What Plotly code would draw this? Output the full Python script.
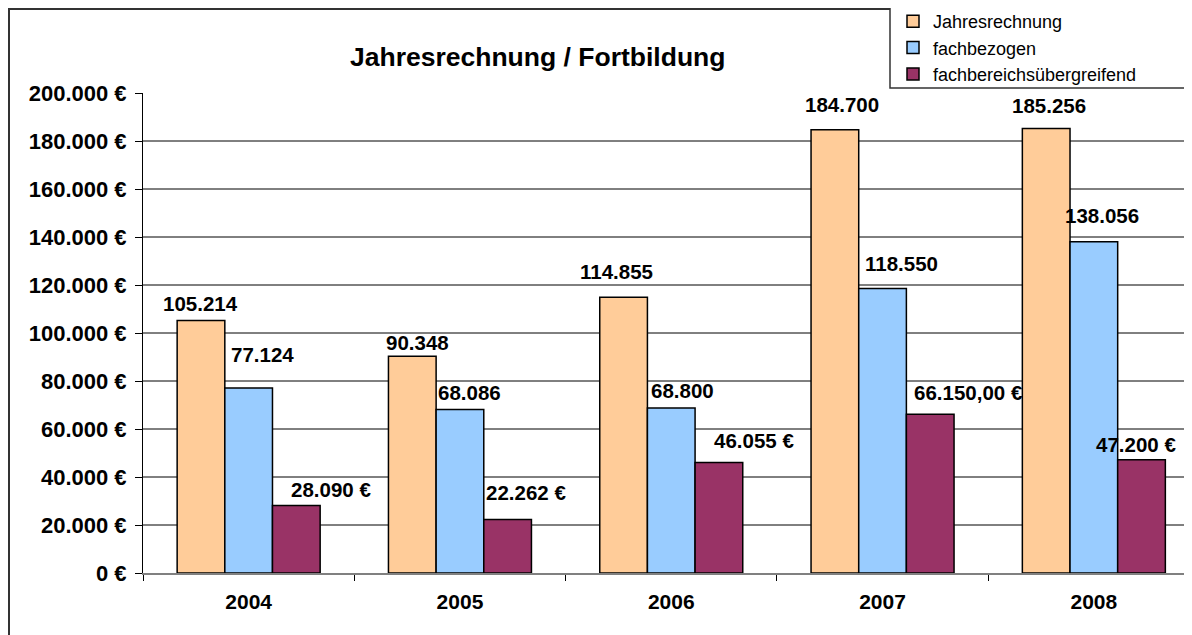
import plotly.graph_objects as go

years = ["2004", "2005", "2006", "2007", "2008"]
series_names = ["Jahresrechnung", "fachbezogen", "fachbereichsübergreifend"]
jahresrechnung = [105214, 90348, 114855, 184700, 185256]
fachbezogen = [77124, 68086, 68800, 118550, 138056]
fachbereichsuebergreifend = [28090, 22262, 46055, 66150, 47200]

labels_jr = ["105.214", "90.348", "114.855", "184.700", "185.256"]
labels_fb = ["77.124", "68.086", "68.800", "118.550", "138.056"]
labels_fu = ["28.090 €", "22.262 €", "46.055 €", "66.150,00 €", "47.200 €"]

y_tickvals = [0, 20000, 40000, 60000, 80000, 100000, 120000, 140000, 160000, 180000, 200000]
y_ticktext = ["0 €", "20.000 €", "40.000 €", "60.000 €", "80.000 €", "100.000 €",
              "120.000 €", "140.000 €", "160.000 €", "180.000 €", "200.000 €"]

colors = ["#FFCC99", "#99CCFF", "#993366"]

# label offsets in pixels (dx, dy) relative to bar centre / bar top
offsets_jr = [(0, 17), (5, 14), (-7, 26), (7, 25), (3, 23)]
offsets_fb = [(14, 33), (10, 17), (11, 17), (19, 25), (8, 26)]
offsets_fu = [(35, 16), (18, 27), (35, 22), (38, 22), (-6, 15)]

FONT = "Liberation Sans, Arial, sans-serif"

# page is rendered with an 8px body margin
OFF = 8
W, H = 1192 - OFF, 635 - OFF
L, T = 143 - OFF, 93 - OFF
B = H - (573 - OFF)
R = 0
pw = W - L - R
ph = H - T - B
cat_w = 211.3
group_w = 143.0
bar_w = group_w / 3


def px(x):
    return (x - OFF - L) / pw


def py(y):
    return (H - B - (y - OFF)) / ph


fig = go.Figure()
all_series = [jahresrechnung, fachbezogen, fachbereichsuebergreifend]
for name, vals, col in zip(series_names, all_series, colors):
    fig.add_trace(go.Bar(
        x=years, y=vals, name=name,
        marker=dict(color=col, line=dict(color="black", width=1.5)),
    ))

annotations = []
for si, (vals, labs, offs) in enumerate(zip(all_series,
                                             [labels_jr, labels_fb, labels_fu],
                                             [offsets_jr, offsets_fb, offsets_fu])):
    bar_dx = (si - 1) * bar_w
    for ci, (v, lab, (dx, dy)) in enumerate(zip(vals, labs, offs)):
        annotations.append(dict(
            x=ci, y=v, xref="x", yref="y", text="<b>%s</b>" % lab,
            showarrow=False, xshift=bar_dx + dx, yshift=dy,
            font=dict(family=FONT, size=20.5, color="black"),
            xanchor="center", yanchor="middle",
        ))

annotations.append(dict(
    x=px(537.5), y=py(57), xref="paper", yref="paper",
    text="<b>Jahresrechnung / Fortbildung</b>", showarrow=False,
    font=dict(family=FONT, size=26.5, color="black"),
    xanchor="center", yanchor="middle",
))

shapes = [
    # outer chart border
    dict(type="rect", xref="paper", yref="paper",
         x0=px(OFF + 1), x1=px(1210), y0=py(660), y1=py(OFF + 1),
         line=dict(color="#333333", width=2), fillcolor="rgba(0,0,0,0)",
         layer="below"),
    # legend frame
    dict(type="rect", xref="paper", yref="paper",
         x0=px(890), x1=px(1210), y0=py(88), y1=py(-10),
         line=dict(color="#333333", width=1.5), fillcolor="white",
         layer="above"),
]
for v in y_tickvals[1:-1]:
    shapes.append(dict(type="line", xref="paper", yref="y", x0=0, x1=1, y0=v, y1=v,
                       line=dict(color="black", width=1), layer="below"))

fig.update_layout(
    width=W, height=H,
    margin=dict(l=L, r=R, t=T, b=B, pad=0, autoexpand=False),
    paper_bgcolor="white", plot_bgcolor="white",
    barmode="group", bargap=1 - group_w / cat_w, bargroupgap=0,
    annotations=annotations,
    shapes=shapes,
    showlegend=True,
    legend=dict(
        x=px(893), y=py(3), xanchor="left", yanchor="top",
        bgcolor="rgba(0,0,0,0)", borderwidth=0,
        font=dict(family=FONT, size=18, color="black"),
        tracegroupgap=0,
    ),
    font=dict(family=FONT),
)

fig.update_xaxes(
    type="category", range=[-0.5, -0.5 + pw / cat_w],
    showline=True, linecolor="#808080", linewidth=2,
    ticks="outside", tickson="boundaries", ticklen=6, tickcolor="black",
    tickfont=dict(family=FONT, size=21, color="black"),
    tickprefix="<b>", ticksuffix="</b>",
    ticklabelstandoff=9, automargin=False,
    showgrid=False,
)
fig.update_yaxes(
    range=[0, 200000],
    tickvals=y_tickvals, ticktext=["<b>%s</b>" % t for t in y_ticktext],
    showline=True, linecolor="black", linewidth=1,
    ticks="outside", ticklen=7, tickcolor="black",
    tickfont=dict(family=FONT, size=22, color="black"),
    ticklabelstandoff=4, automargin=False,
    showgrid=False, zeroline=False,
)

fig.write_html("out.html")
